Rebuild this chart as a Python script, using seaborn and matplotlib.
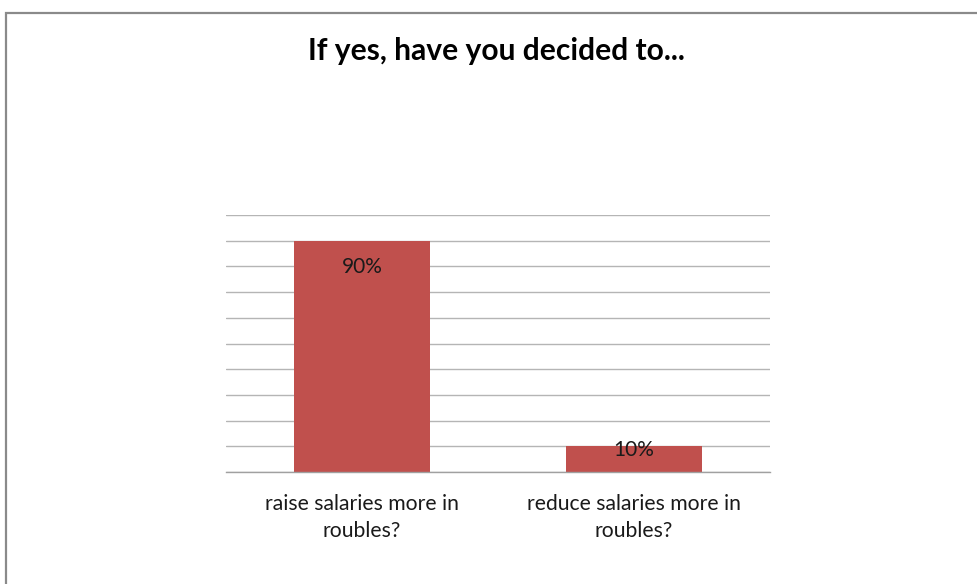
import matplotlib
matplotlib.use("Agg")
import matplotlib.pyplot as plt
import seaborn as sns
import pandas as pd
from matplotlib.patches import Rectangle

# Survey answers
categories = ["raise salaries more in\nroubles?", "reduce salaries more in\nroubles?"]
shares = [90, 10]
title = "If yes, have you decided to..."

BAR_COLOR = "#C0504D"
GRID_COLOR = "#b5b5b5"
TEXT_COLOR = "#1a1a1a"

sns.set_theme(style="white")
plt.rcParams["font.family"] = ["Lato", "DejaVu Sans"]

W, H = 978, 584
fig = plt.figure(figsize=(W / 100, H / 100), dpi=100)
fig.patch.set_facecolor("white")

# plot area in pixel coordinates
left, right, top, bottom = 226, 770, 215, 472
ax = fig.add_axes([left / W, 1 - bottom / H, (right - left) / W, (bottom - top) / H])

df = pd.DataFrame({"answer": categories, "share": shares})
sns.barplot(data=df, x="answer", y="share", color=BAR_COLOR, width=0.5,
            saturation=1, ax=ax, edgecolor="none")

ax.set_ylim(0, 100)
ax.set_xlim(-0.5, len(categories) - 0.5)
ax.set_yticks(range(0, 101, 10))
ax.yaxis.grid(True, color=GRID_COLOR, linewidth=1)
ax.set_axisbelow(True)
ax.tick_params(axis="y", left=False, labelleft=False)
ax.set_xlabel("")
ax.set_ylabel("")

for s in ["top", "right", "left"]:
    ax.spines[s].set_visible(False)
ax.spines["bottom"].set_color("#a0a0a0")
ax.spines["bottom"].set_linewidth(1)

# category labels centered, tick marks at category boundaries
ax.set_xticks(range(len(categories)))
ax.set_xticklabels(categories, fontsize=15.2, color=TEXT_COLOR, linespacing=1.45)
ax.tick_params(axis="x", length=0, pad=15.5)
ax.set_xticks([i - 0.5 for i in range(len(categories) + 1)], minor=True)
ax.tick_params(axis="x", which="minor", length=6, width=1, color="#a0a0a0", direction="out")

# value labels at the inside end of each bar
for i, v in enumerate(shares):
    if v >= 30:
        ax.annotate(f"{v}%", (i, v), xytext=(0, -19), textcoords="offset points",
                    ha="center", va="center", fontsize=15, color=TEXT_COLOR)
    else:
        ax.annotate(f"{v}%", (i, v), xytext=(0, -2.5), textcoords="offset points",
                    ha="center", va="center", fontsize=15, color=TEXT_COLOR)

fig.text(496 / W, 1 - 51 / H, title, ha="center", va="center",
         fontsize=21.6, fontweight="bold", color="black")

# chart frame
fig.patches.append(Rectangle((6.5 / W, -0.1), 1.2, 1 - 12.5 / H + 0.1,
                             transform=fig.transFigure, fill=False,
                             edgecolor="#8a8a8a", linewidth=1.6))

fig.savefig("out.png", dpi=100)
